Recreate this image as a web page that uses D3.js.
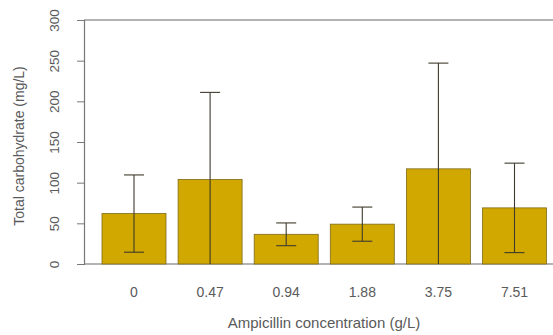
<!DOCTYPE html>
<html>
<head>
<meta charset="utf-8">
<script src="https://cdn.jsdelivr.net/npm/d3@7"></script>
<style>
  html, body { margin: 0; padding: 0; background: #fff; }
  svg { display: block; font-family: "Liberation Sans", Arial, sans-serif; }
</style>
</head>
<body>
<svg id="chart" width="553" height="335"></svg>
<script>
// Ampicillin concentrations (g/L) and mean total carbohydrate (mg/L) with SD
const concentrations = ["0", "0.47", "0.94", "1.88", "3.75", "7.51"];
const meanCarbs = [62, 104, 36.5, 49, 117, 69];
const sdCarbs = [47.5, 107, 14, 21, 130, 55];
const yTicks = [0, 50, 100, 150, 200, 250, 300];

(function () {
  const svg = d3.select("#chart");
  const plotLeft = 84, plotTop = 20, plotBottom = 264;
  const barStart = 102, barStep = 76.1, barWidth = 64;
  const gap = barStep - barWidth;
  const textColor = "#5a5a5a";

  const y = d3.scaleLinear().domain([0, 300]).range([plotBottom, plotTop]);
  const x = d3.scaleBand()
    .domain(concentrations)
    .range([barStart - gap / 2, barStart - gap / 2 + barStep * concentrations.length])
    .paddingInner(gap / barStep)
    .paddingOuter(gap / barStep / 2);

  // frame lines: top and baseline run to the right edge
  svg.append("line").attr("x1", plotLeft).attr("x2", 553).attr("y1", y(300)).attr("y2", y(300))
    .attr("stroke", "#9a9a9a").attr("stroke-width", 1.5);
  svg.append("line").attr("x1", plotLeft).attr("x2", 553).attr("y1", y(0)).attr("y2", y(0))
    .attr("stroke", "#6a6a6a").attr("stroke-width", 1.2);

  // bars
  svg.selectAll("rect.bar").data(concentrations).enter().append("rect")
    .attr("class", "bar")
    .attr("x", d => x(d))
    .attr("width", x.bandwidth())
    .attr("y", (d, i) => y(meanCarbs[i]))
    .attr("height", (d, i) => y(0) - y(meanCarbs[i]))
    .attr("fill", "#d0a800")
    .attr("stroke", "#7d6a1a")
    .attr("stroke-width", 0.8);

  // error bars (lower end limited to zero)
  const err = svg.append("g").attr("stroke", "#3f3a2c").attr("stroke-width", 1.1);
  concentrations.forEach((c, i) => {
    const cx = x(c) + x.bandwidth() / 2;
    const hi = meanCarbs[i] + sdCarbs[i];
    const loRaw = meanCarbs[i] - sdCarbs[i];
    const lo = Math.max(0, loRaw);
    err.append("line").attr("x1", cx).attr("x2", cx).attr("y1", y(hi)).attr("y2", y(lo));
    err.append("line").attr("x1", cx - 10).attr("x2", cx + 10).attr("y1", y(hi)).attr("y2", y(hi));
    if (loRaw >= 0) {
      err.append("line").attr("x1", cx - 10).attr("x2", cx + 10).attr("y1", y(lo)).attr("y2", y(lo));
    }
  });

  // y axis with rotated tick labels
  const yAxis = d3.axisLeft(y).tickValues(yTicks).tickSize(7).tickPadding(0).tickFormat(d3.format("d"));
  const gy = svg.append("g").attr("transform", `translate(${plotLeft},0)`).call(yAxis);
  gy.select(".domain").attr("stroke", "#777").attr("stroke-width", 1.2);
  gy.selectAll(".tick line").attr("stroke", "#777");
  gy.selectAll(".tick text")
    .attr("x", 0).attr("dy", 0)
    .attr("transform", "translate(-30,0) rotate(-90)")
    .attr("text-anchor", "middle")
    .attr("dominant-baseline", "central")
    .attr("fill", textColor)
    .style("font-size", "13.5px");

  // x category labels
  svg.selectAll("text.xlab").data(concentrations).enter().append("text")
    .attr("class", "xlab")
    .attr("x", d => x(d) + x.bandwidth() / 2)
    .attr("y", 297)
    .attr("text-anchor", "middle")
    .attr("fill", textColor)
    .style("font-size", "14px")
    .text(d => d);

  // axis titles
  svg.append("text")
    .attr("x", 324).attr("y", 328)
    .attr("text-anchor", "middle")
    .attr("fill", textColor)
    .style("font-size", "15px")
    .text("Ampicillin concentration (g/L)");

  svg.append("text")
    .attr("transform", "translate(24,146) rotate(-90)")
    .attr("text-anchor", "middle")
    .attr("fill", textColor)
    .style("font-size", "14px")
    .text("Total carbohydrate (mg/L)");
})();
</script>
</body>
</html>
